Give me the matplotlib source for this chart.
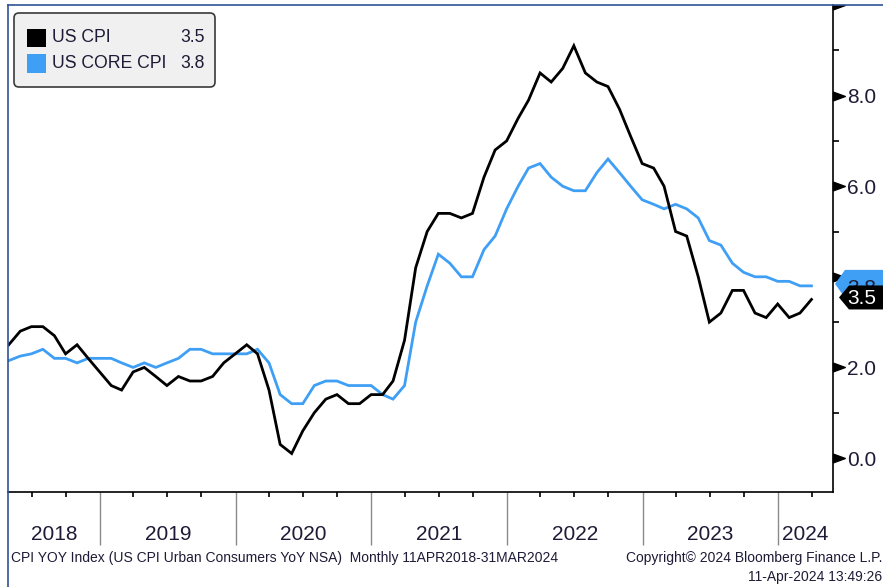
import numpy as np
import pandas as pd
import matplotlib
matplotlib.use('Agg')
import matplotlib.pyplot as plt
import matplotlib.dates as mdates
from matplotlib.patches import FancyBboxPatch, Polygon, Rectangle
from matplotlib.lines import Line2D
from matplotlib.path import Path
from matplotlib.transforms import IdentityTransform, blended_transform_factory, Bbox

# ---------------- data ----------------
months = pd.period_range('2018-04', '2024-03', freq='M').to_timestamp(how='end').normalize()

cpi = [2.5, 2.8, 2.9, 2.9, 2.7, 2.3, 2.5, 2.2, 1.9,
       1.6, 1.5, 1.9, 2.0, 1.8, 1.6, 1.8, 1.7, 1.7, 1.8, 2.1, 2.3,
       2.5, 2.3, 1.5, 0.3, 0.1, 0.6, 1.0, 1.3, 1.4, 1.2, 1.2, 1.4,
       1.4, 1.7, 2.6, 4.2, 5.0, 5.4, 5.4, 5.3, 5.4, 6.2, 6.8, 7.0,
       7.5, 7.9, 8.5, 8.3, 8.6, 9.1, 8.5, 8.3, 8.2, 7.7, 7.1, 6.5,
       6.4, 6.0, 5.0, 4.9, 4.0, 3.0, 3.2, 3.7, 3.7, 3.2, 3.1, 3.4,
       3.1, 3.2, 3.5]

core = [2.15, 2.25, 2.3, 2.4, 2.2, 2.2, 2.1, 2.2, 2.2,
        2.2, 2.1, 2.0, 2.1, 2.0, 2.1, 2.2, 2.4, 2.4, 2.3, 2.3, 2.3,
        2.3, 2.4, 2.1, 1.4, 1.2, 1.2, 1.6, 1.7, 1.7, 1.6, 1.6, 1.6,
        1.4, 1.3, 1.6, 3.0, 3.8, 4.5, 4.3, 4.0, 4.0, 4.6, 4.9, 5.5,
        6.0, 6.4, 6.5, 6.2, 6.0, 5.9, 5.9, 6.3, 6.6, 6.3, 6.0, 5.7,
        5.6, 5.5, 5.6, 5.5, 5.3, 4.8, 4.7, 4.3, 4.1, 4.0, 4.0, 3.9,
        3.9, 3.8, 3.8]

series_names = ['US CPI', 'US CORE CPI']
last_labels = ['3.5', '3.8']
year_labels = ['2018', '2019', '2020', '2021', '2022', '2023', '2024']
y_ticks = [0, 2, 4, 6, 8, 10]
y_tick_labels = ['0.0', '2.0', '4.0', '6.0', '8.0', '']
y_minor = [1, 3, 5, 7, 9]
footer_left = 'CPI YOY Index (US CPI Urban Consumers YoY NSA)  Monthly 11APR2018-31MAR2024'
footer_right1 = 'Copyright\u00a9 2024 Bloomberg Finance L.P.'
footer_right2 = '11-Apr-2024 13:49:26'

# ---------------- style ----------------
FONT = ['Liberation Sans', 'DejaVu Sans']
plt.rcParams['font.family'] = FONT
TXT = '#1e1b36'
BLUE = '#3f9ff5'
FRAME = '#2f5496'

W, H = 883, 587
fig = plt.figure(figsize=(W / 100, H / 100), dpi=100)
fig.patch.set_facecolor('white')
L, T, R, B = 8, 5, 833, 492
ax = fig.add_axes([L / W, (H - B) / H, (R - L) / W, (B - T) / H])

x_left = pd.Timestamp('2018-04-28')
x_right = pd.Timestamp('2024-05-28')
ax.set_xlim(x_left, x_right)
ax.set_ylim(-0.75, 10.0)

ax.plot(months, core, color=BLUE, lw=2.0, zorder=2, solid_joinstyle='miter')
ax.plot(months, cpi, color='black', lw=2.0, zorder=3, solid_joinstyle='miter')

# spines
for s in ['left', 'top']:
    ax.spines[s].set_visible(False)
for s in ['right', 'bottom']:
    ax.spines[s].set_color('black')
    ax.spines[s].set_linewidth(1.2)

# x axis
ax.xaxis.set_major_locator(mdates.YearLocator())
ax.xaxis.set_minor_locator(mdates.MonthLocator(bymonth=[1, 4, 7, 10]))
ax.tick_params(axis='x', which='major', length=38, width=1.0, color='#8a8a8a',
               direction='out', labelbottom=False)
ax.tick_params(axis='x', which='minor', length=3.5, width=1.2, color='black',
               direction='out', labelbottom=False)

bounds = [mdates.date2num(x_left)] + \
         [mdates.date2num(pd.Timestamp(f'{y}-01-01')) for y in range(2019, 2025)] + \
         [mdates.date2num(x_right)]
trx = blended_transform_factory(ax.transData, ax.transAxes)
for i, lab in enumerate(year_labels):
    xc = 0.5 * (bounds[i] + bounds[i + 1])
    ax.text(xc, -42 / (B - T), lab, transform=trx, ha='center', va='center',
            fontsize=15, color=TXT)

# y axis (right)
ax.yaxis.tick_right()
ax.set_yticks(y_ticks)
ax.set_yticklabels(y_tick_labels)
ax.set_yticks(y_minor, minor=True)
ax.tick_params(axis='y', which='major', length=0, pad=10, labelsize=15, labelcolor=TXT)
ax.tick_params(axis='y', which='minor', length=4, width=1.2, direction='out', color='black')

ident = IdentityTransform()
tri = Path([(0, -1.1), (0, 1.1), (3, 0), (0, -1.1)],
           [Path.MOVETO, Path.LINETO, Path.LINETO, Path.CLOSEPOLY])
try_ = blended_transform_factory(ax.transAxes, ax.transData)
tri_line, = ax.plot([1.0] * len(y_ticks), y_ticks, ls='none', marker=tri, ms=17,
                    color='black', transform=try_, zorder=5)
tri_line.set_clip_box(Bbox.from_extents(0, 0, W, H - T))
tri_line.set_clip_on(True)

# end-value labels (black box drawn over the blue one, as in the reference)
xnum = mdates.date2num(months[-1])
specs = [(core[-1], last_labels[1], BLUE, TXT, 6, 14, 2, -5, 6),
         (cpi[-1], last_labels[0], 'black', 'white', 7, 12, 2, -1, 10)]
for val, lab, face, tcol, z, hh, dy, tdy, tipdx in specs:
    _, yd = ax.transData.transform((xnum, val))
    yc = yd + dy
    poly = Polygon([(R + tipdx - 4, yc), (R + tipdx + 6, yc + hh), (W + 5, yc + hh),
                    (W + 5, yc - hh), (R + tipdx + 6, yc - hh)], closed=True,
                   facecolor=face, edgecolor='none', transform=ident, zorder=z)
    fig.add_artist(poly)
    fig.text(R + 14, yc + tdy, lab, transform=ident, ha='left', va='center',
             fontsize=15, color=tcol, zorder=z + 0.5)

# frame lines (blue, left and top)
fig.add_artist(Line2D([L, L], [0, H - T], color=FRAME, lw=1.2, transform=ident))
fig.add_artist(Line2D([L, W], [H - T, H - T], color=FRAME, lw=1.2, transform=ident))

# legend
def py(y):
    return H - y

fig.add_artist(FancyBboxPatch((14, py(87)), 201, 74,
                              boxstyle='round,pad=0,rounding_size=5',
                              facecolor='#f0f0f0', edgecolor='#3a3a3a', lw=1.2,
                              transform=ident, zorder=8))
for i, (name, col, lab) in enumerate([(series_names[0], 'black', last_labels[0]),
                                      (series_names[1], BLUE, last_labels[1])]):
    yc = 38 + i * 25.5
    fig.add_artist(Rectangle((27, py(yc + 9)), 19, 18.5, facecolor=col,
                             edgecolor='none', transform=ident, zorder=9))
    fig.text(52, py(yc), name, transform=ident, ha='left', va='center',
             fontsize=12.7, color=TXT, zorder=10)
    fig.text(205, py(yc), lab, transform=ident, ha='right', va='center',
             fontsize=12.7, color=TXT, zorder=10)

# footer
fig.text(11, py(558), footer_left, transform=ident, ha='left', va='center',
         fontsize=10, color=TXT)
fig.text(882, py(558), footer_right1, transform=ident, ha='right', va='center',
         fontsize=10, color=TXT)
fig.text(882, py(577), footer_right2, transform=ident, ha='right', va='center',
         fontsize=10, color=TXT)

fig.savefig('out.png', dpi=100, facecolor='white')
